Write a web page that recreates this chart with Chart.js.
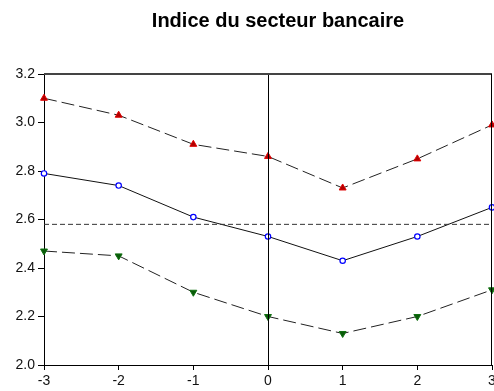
<!DOCTYPE html>
<html>
<head>
<meta charset="utf-8">
<script src="https://cdn.jsdelivr.net/npm/chart.js@4/dist/chart.umd.min.js"></script>
<style>
  html, body { margin: 0; padding: 0; background: #fff; overflow: hidden; }
  #wrap { width: 500px; height: 391px; }
</style>
</head>
<body>
<div id="wrap"><canvas id="c" width="500" height="391"></canvas></div>
<script>
// Horizon (periods around the event)
const horizon = [-3, -2, -1, 0, 1, 2, 3];
// Upper band, central estimate, lower band
const upperBand = [3.10, 3.03, 2.91, 2.86, 2.73, 2.85, 2.99];
const centralEstimate = [2.79, 2.74, 2.61, 2.53, 2.43, 2.53, 2.65];
const lowerBand = [2.47, 2.45, 2.30, 2.20, 2.13, 2.20, 2.31];
// Reference level (horizontal dashed line)
const referenceLevel = 2.58;
const yTicks = [2.0, 2.2, 2.4, 2.6, 2.8, 3.0, 3.2];
const chartTitle = 'Indice du secteur bancaire';

const toPoints = arr => horizon.map((x, i) => ({ x: x, y: arr[i] }));

const framePlugin = {
  id: 'frame',
  afterDatasetsDraw(chart) {
    const { ctx, chartArea: a, scales } = chart;
    ctx.save();
    // vertical line at period 0
    const x0 = scales.x.getPixelForValue(0);
    ctx.strokeStyle = '#000';
    ctx.lineWidth = 1;
    ctx.beginPath();
    ctx.moveTo(Math.round(x0) + 0.5, a.top);
    ctx.lineTo(Math.round(x0) + 0.5, a.bottom);
    ctx.stroke();
    // top and right border
    ctx.strokeStyle = '#444';
    ctx.lineWidth = 2;
    ctx.beginPath();
    ctx.moveTo(a.left, a.top);
    ctx.lineTo(a.right, a.top);
    ctx.stroke();
    ctx.strokeStyle = '#000';
    ctx.lineWidth = 1;
    ctx.beginPath();
    ctx.moveTo(Math.round(a.right) - 0.5, a.top);
    ctx.lineTo(Math.round(a.right) - 0.5, a.bottom);
    ctx.stroke();
    ctx.restore();
  },
  afterDraw(chart) {
    const { ctx } = chart;
    ctx.save();
    ctx.fillStyle = '#000';
    ctx.font = 'bold 20px "Liberation Sans", Arial, sans-serif';
    ctx.textAlign = 'center';
    ctx.textBaseline = 'middle';
    ctx.fillText(chartTitle, 278, 21);
    ctx.restore();
  }
};

new Chart(document.getElementById('c'), {
  type: 'line',
  data: {
    datasets: [
      {
        label: 'reference',
        data: [{ x: horizon[0], y: referenceLevel }, { x: horizon[horizon.length - 1], y: referenceLevel }],
        borderColor: '#333',
        borderWidth: 1,
        borderDash: [5, 3],
        pointRadius: 0,
        fill: false
      },
      {
        label: 'upper',
        data: toPoints(upperBand),
        borderColor: '#222',
        borderWidth: 1,
        borderDash: [13, 5],
        pointStyle: 'triangle',
        pointRadius: 4,
        pointBackgroundColor: '#b00000',
        pointBorderColor: '#e00000',
        pointBorderWidth: 1,
        fill: false
      },
      {
        label: 'central',
        data: toPoints(centralEstimate),
        borderColor: '#111',
        borderWidth: 1,
        pointStyle: 'circle',
        pointRadius: 2.7,
        pointBackgroundColor: '#fff',
        pointBorderColor: '#0000ff',
        pointBorderWidth: 1.2,
        fill: false
      },
      {
        label: 'lower',
        data: toPoints(lowerBand),
        borderColor: '#222',
        borderWidth: 1,
        borderDash: [13, 5],
        pointStyle: 'triangle',
        pointRotation: 180,
        pointRadius: 4,
        pointBackgroundColor: '#0a5a0a',
        pointBorderColor: '#107010',
        pointBorderWidth: 1,
        fill: false
      }
    ]
  },
  options: {
    responsive: false,
    animation: false,
    clip: false,
    layout: { padding: { top: 74, right: 8, left: 0, bottom: 0 } },
    plugins: { legend: { display: false }, title: { display: false }, tooltip: { enabled: false } },
    scales: {
      x: {
        type: 'linear',
        min: -3, max: 3,
        afterFit(s) { s.height = 26; },
        grid: { drawOnChartArea: false, drawTicks: true, tickLength: 5, color: '#000' },
        border: { display: true, color: '#000', width: 1 },
        ticks: {
          stepSize: 1,
          padding: 3,
          color: '#111',
          font: { family: '"Liberation Sans", Arial, sans-serif', size: 14 },
          maxRotation: 0
        }
      },
      y: {
        type: 'linear',
        min: 2.0, max: 3.2,
        afterFit(s) { s.width = 44; },
        afterBuildTicks(s) { s.ticks = yTicks.map(v => ({ value: v })); },
        grid: { drawOnChartArea: false, drawTicks: true, tickLength: 6, color: '#000' },
        border: { display: true, color: '#000', width: 1 },
        ticks: {
          padding: 3,
          color: '#111',
          font: { family: '"Liberation Sans", Arial, sans-serif', size: 14 },
          callback: v => Number(v).toFixed(1)
        }
      }
    }
  },
  plugins: [framePlugin]
});
</script>
</body>
</html>
